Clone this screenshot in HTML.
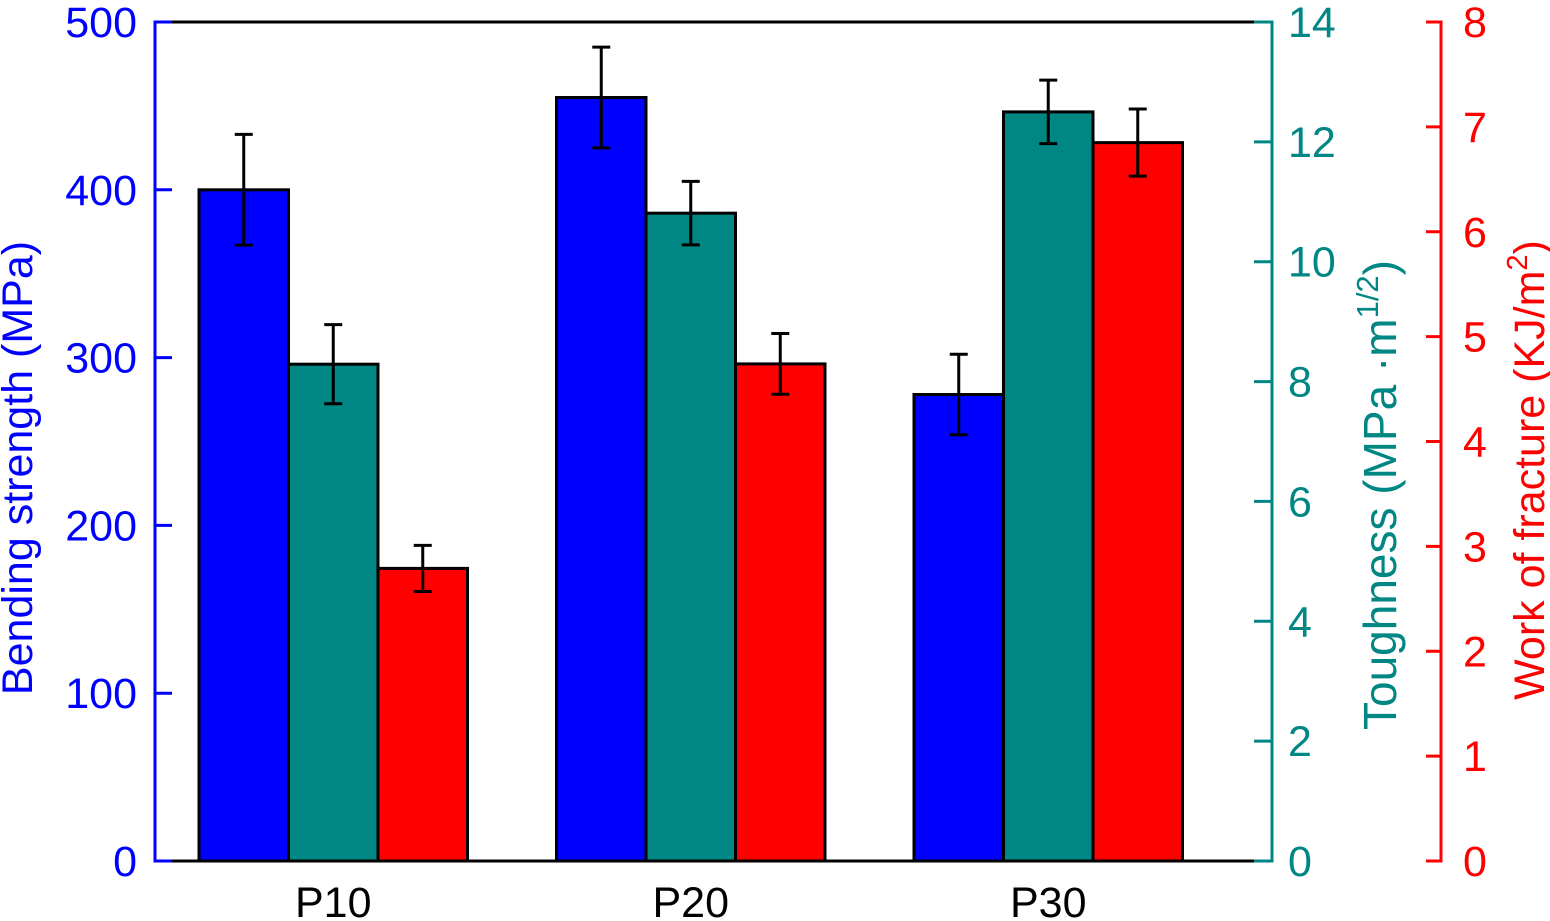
<!DOCTYPE html>
<html><head><meta charset="utf-8"><style>
html,body{margin:0;padding:0;background:#fff;}
svg{display:block;font-family:"Liberation Sans",Arial,sans-serif;}
</style></head><body>
<svg id="chart" width="1550" height="921"></svg>
<script>
const categories = ["P10","P20","P30"];
const strength = [400, 455, 278];
const strengthErr = [33, 30, 24];
const toughness = [8.29, 10.81, 12.5];
const toughnessErr = [0.66, 0.53, 0.53];
const work = [2.79, 4.74, 6.85];
const workErr = [0.22, 0.29, 0.32];
const leftTicks = [0,100,200,300,400,500];
const midTicks = [0,2,4,6,8,10,12,14];
const rightTicks = [0,1,2,3,4,5,6,7,8];

const NS = "http://www.w3.org/2000/svg";
const svg = document.getElementById('chart');
const Y0 = 861, Y1 = 22;
const yL = v => Y0 - v/500*(Y0-Y1);
const yM = v => Y0 - v/14*(Y0-Y1);
const yR = v => Y0 - v/8*(Y0-Y1);
const groupStart = i => 199 + i*357.5;
const BW = 89.5;
function mk(tag, attrs, text){
  const e = document.createElementNS(NS, tag);
  for (const k in attrs) e.setAttribute(k, attrs[k]);
  if (text !== undefined) e.textContent = text;
  svg.appendChild(e); return e;
}
let e;
e = mk('line',{x1:155,y1:Y1,x2:1272,y2:Y1,stroke:'#000','stroke-width':3});
 
e = mk('line',{x1:155,y1:Y0,x2:1272,y2:Y0,stroke:'#000','stroke-width':3});
 

const series = [
  {vals:strength, err:strengthErr, fy:yL, color:'#0000ff', name:'strength'},
  {vals:toughness, err:toughnessErr, fy:yM, color:'#008683', name:'toughness'},
  {vals:work, err:workErr, fy:yR, color:'#ff0000', name:'work'}
];
series.forEach((s,si)=>{
  categories.forEach((c,i)=>{
    const x = groupStart(i) + si*BW;
    const y = s.fy(s.vals[i]);
    e = mk('rect',{x:x,y:y,width:BW,height:Y0-y,fill:s.color,stroke:'#000','stroke-width':3});
    
    
    const cx = x + BW/2, t = s.fy(s.vals[i]+s.err[i]), b = s.fy(s.vals[i]-s.err[i]);
    e = mk('path',{d:`M${cx},${t}V${b}M${cx-9},${t}H${cx+9}M${cx-9},${b}H${cx+9}`,stroke:'#000','stroke-width':3,fill:'none'});
    
    
  });
});
categories.forEach((c,i)=>{
  e = mk('text',{x:groupStart(i)+BW*1.5,y:917,'font-size':43,'text-anchor':'middle',fill:'#000'},c);
  
  
});
e = mk('line',{x1:155,y1:Y1-1.5,x2:155,y2:Y0+1.5,stroke:'#0000ff','stroke-width':3});
 
e = mk('line',{x1:155,y1:Y0,x2:172,y2:Y0,stroke:'#0000ff','stroke-width':3});
 
leftTicks.forEach(v=>{
  e = mk('line',{x1:155,y1:yL(v),x2:172,y2:yL(v),stroke:'#0000ff','stroke-width':3});
   
  e = mk('text',{x:137,y:yL(v)+15,'font-size':43,'text-anchor':'end',fill:'#0000ff'},v);
   
});
e = mk('text',{x:0,y:0,'font-size':43,'text-anchor':'middle',fill:'#0000ff',transform:'translate(32,468) rotate(-90)'},'Bending strength (MPa)');
 
e = mk('line',{x1:1272,y1:Y1-1.5,x2:1272,y2:Y0+1.5,stroke:'#008683','stroke-width':3});
 
midTicks.forEach(v=>{
  e = mk('line',{x1:1254,y1:yM(v),x2:1272,y2:yM(v),stroke:'#008683','stroke-width':3});
   
  e = mk('text',{x:1288,y:yM(v)+15,'font-size':43,'text-anchor':'start',fill:'#008683'},v);
   
});
e = mk('text',{x:0,y:0,'font-size':46,'text-anchor':'middle',fill:'#008683',transform:'translate(1396,495) rotate(-90)'});
e.innerHTML = 'Toughness (MPa ·m<tspan dy="-18" font-size="31">1/2</tspan><tspan dy="18">)</tspan>';
 
e = mk('line',{x1:1441,y1:Y1-1.5,x2:1441,y2:Y0+1.5,stroke:'#ff0000','stroke-width':3});
 
rightTicks.forEach(v=>{
  e = mk('line',{x1:1426,y1:yR(v),x2:1441,y2:yR(v),stroke:'#ff0000','stroke-width':3});
   
  e = mk('text',{x:1463,y:yR(v)+15,'font-size':43,'text-anchor':'start',fill:'#ff0000'},v);
   
});
e = mk('text',{x:0,y:0,'font-size':43,'text-anchor':'middle',fill:'#ff0000',transform:'translate(1544,470) rotate(-90)'});
e.innerHTML = 'Work of fracture (KJ/m<tspan dy="-17" font-size="29">2</tspan><tspan dy="17">)</tspan>';
 
</script>
</body></html>
